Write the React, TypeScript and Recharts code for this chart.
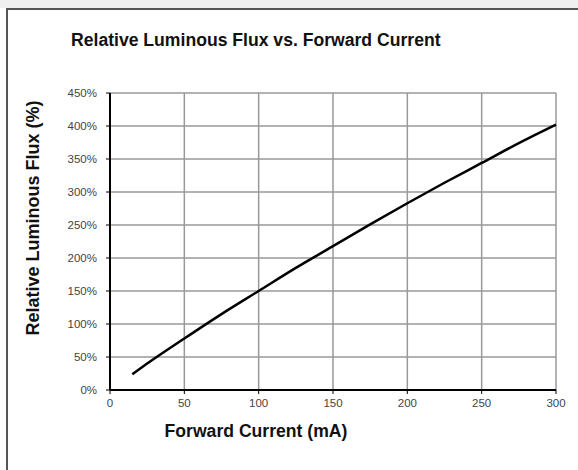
import React from "react";
import { LineChart, Line, XAxis, YAxis, CartesianGrid } from "recharts";

// values
const currentMa = [15, 25, 50, 75, 100, 125, 150, 175, 200, 225, 250, 275, 300];
const fluxPct = [24, 40, 78, 115, 150, 185, 218, 251, 283, 314, 344, 374, 402];
const xTicks = [0, 50, 100, 150, 200, 250, 300];
const yTicks = [0, 50, 100, 150, 200, 250, 300, 350, 400, 450];

const data = currentMa.map((c, i) => ({ current: c, flux: fluxPct[i] }));

const FONT = '"Liberation Sans", Arial, sans-serif';
const tickStyle = { fill: "#444", fontSize: 11.5, fontFamily: FONT };

const XLabel = () => (
  <text
    x={256}
    y={437}
    textAnchor="middle"
    fontFamily={FONT}
    fontSize={17.6}
    fontWeight="bold"
    fill="#111"
  >
    Forward Current (mA)
  </text>
);

const YLabel = () => (
  <text
    transform="translate(39,218) rotate(-90)"
    textAnchor="middle"
    fontFamily={FONT}
    fontSize={18}
    fontWeight="bold"
    fill="#111"
  >
    Relative Luminous Flux (%)
  </text>
);

export default function App() {
  return (
    <div
      style={{
        position: "absolute",
        top: 0,
        left: 0,
        width: 578,
        height: 470,
        background: "#fff",
        overflow: "hidden",
      }}
    >
      <div
        style={{
          position: "absolute",
          top: 0,
          left: 0,
          width: 578,
          height: 8,
          background: "#f0f0f0",
        }}
      />
      <div
        style={{
          position: "absolute",
          top: 8,
          left: 6,
          width: 600,
          height: 500,
          borderTop: "2px solid #555",
          borderLeft: "2px solid #555",
        }}
      />
      <div
        style={{
          position: "absolute",
          top: 30,
          left: 71,
          fontFamily: FONT,
          fontSize: 17.6,
          lineHeight: "20px",
          fontWeight: "bold",
          color: "#111",
          whiteSpace: "nowrap",
        }}
      >
        Relative Luminous Flux vs. Forward Current
      </div>
      <div style={{ position: "absolute", top: 0, left: 0 }}>
        <LineChart
          width={578}
          height={470}
          data={data}
          margin={{ top: 93, right: 22, left: 0, bottom: 50 }}
        >
          <CartesianGrid stroke="#999" strokeWidth={1.5} />
          <XAxis
            dataKey="current"
            type="number"
            domain={[0, 300]}
            ticks={xTicks}
            height={30}
            tickSize={4}
            tickMargin={5}
            tick={tickStyle}
            axisLine={{ stroke: "#000", strokeWidth: 2 }}
            tickLine={{ stroke: "#000", strokeWidth: 1 }}
            label={<XLabel />}
          />
          <YAxis
            type="number"
            domain={[0, 450]}
            ticks={yTicks}
            width={110}
            tickSize={4}
            tickMargin={9}
            tick={tickStyle}
            tickFormatter={(v) => `${v}%`}
            axisLine={{ stroke: "#000", strokeWidth: 2 }}
            tickLine={{ stroke: "#000", strokeWidth: 1 }}
            label={<YLabel />}
          />
          <Line
            type="monotone"
            dataKey="flux"
            stroke="#000"
            strokeWidth={2.5}
            dot={false}
            isAnimationActive={false}
          />
        </LineChart>
      </div>
    </div>
  );
}
